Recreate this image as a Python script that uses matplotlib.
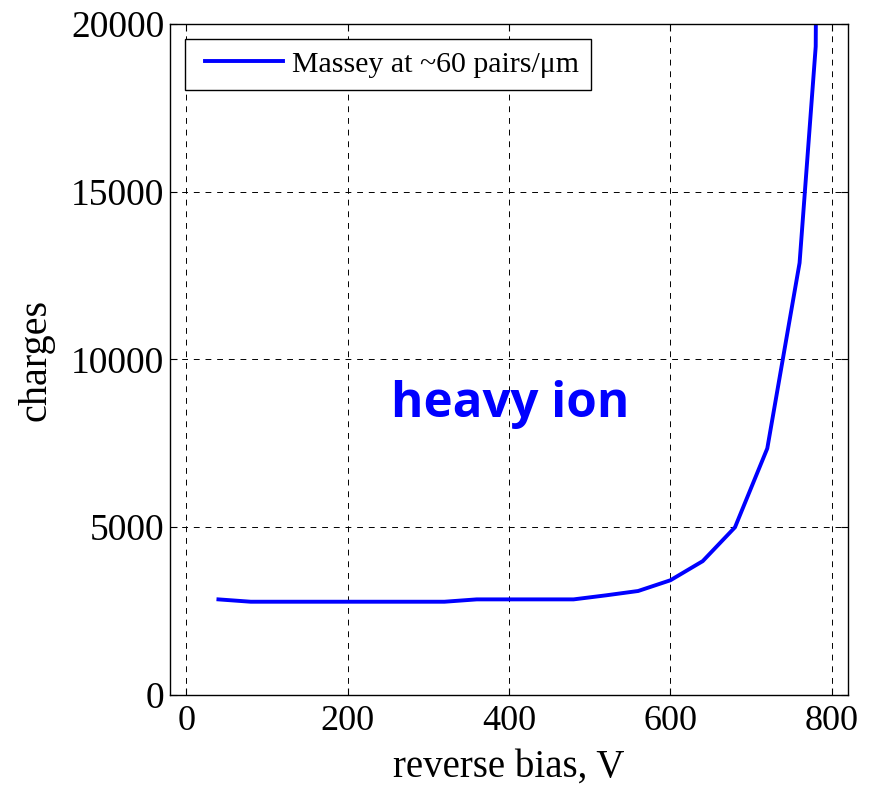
import matplotlib
matplotlib.use("Agg")
import matplotlib.pyplot as plt
from matplotlib.legend_handler import HandlerLine2D

# reverse bias (V) and collected charge
bias = [40, 80, 120, 160, 200, 240, 280, 320, 360, 400, 440, 480,
        520, 560, 600, 640, 680, 720, 760, 780, 785]
charges = [2850, 2780, 2780, 2780, 2780, 2780, 2780, 2780, 2850, 2850, 2850, 2850,
           2970, 3100, 3420, 3990, 5000, 7350, 12880, 19330, 40000]

series_label = "Massey at ~60 pairs/\u03bcm"
x_ticks = [0, 200, 400, 600, 800]
y_ticks = [0, 5000, 10000, 15000, 20000]

plt.rcParams["font.family"] = ["Liberation Serif", "DejaVu Serif"]


class InsetLineHandler(HandlerLine2D):
    """Legend line that starts a little inside its handle box."""

    def __init__(self, inset=6, **kw):
        super().__init__(**kw)
        self.inset = inset

    def get_xdata(self, legend, xdescent, ydescent, width, height, fontsize):
        xdata, xmark = super().get_xdata(legend, xdescent, ydescent, width,
                                         height, fontsize)
        xdata = [-xdescent + self.inset, -xdescent + width]
        return xdata, xmark


fig = plt.figure(figsize=(8.69, 7.85), dpi=100)
ax = fig.add_axes([170 / 869, 1 - 695 / 785, 678 / 869, 671 / 785])

line, = ax.plot(bias, charges, color="#0000ff", lw=2.8, label=series_label)

ax.set_xlim(-20, 820)
ax.set_ylim(0, 20000)
ax.set_xticks(x_ticks)
ax.set_yticks(y_ticks)
ax.tick_params(direction="in", top=True, right=True, length=5, width=0.8,
               colors="black")
ax.tick_params(axis="x", labelsize=26, pad=7)
ax.tick_params(axis="y", labelsize=27, pad=4)
for s in ax.spines.values():
    s.set_linewidth(1.0)

ax.grid(True, color="black", linestyle=(0, (6, 6)), linewidth=0.7)

ax.set_xlabel("reverse bias, V", fontsize=28, labelpad=8)
ax.set_ylabel("charges", fontsize=29, labelpad=12)

leg = ax.legend(handler_map={line: InsetLineHandler(inset=6)},
                loc="upper left", fontsize=21.5, frameon=True, fancybox=False,
                edgecolor="black", framealpha=1, handlelength=2.9,
                handletextpad=0.3, borderaxespad=0.5, borderpad=0.4)
leg.get_frame().set_linewidth(1.0)

ax.text(402, 8650, "heavy ion", color="#0000ff", fontsize=35.5, fontweight="bold",
        family=["Open Sans", "DejaVu Sans"], ha="center", va="center")

fig.savefig("out.png", dpi=100)
